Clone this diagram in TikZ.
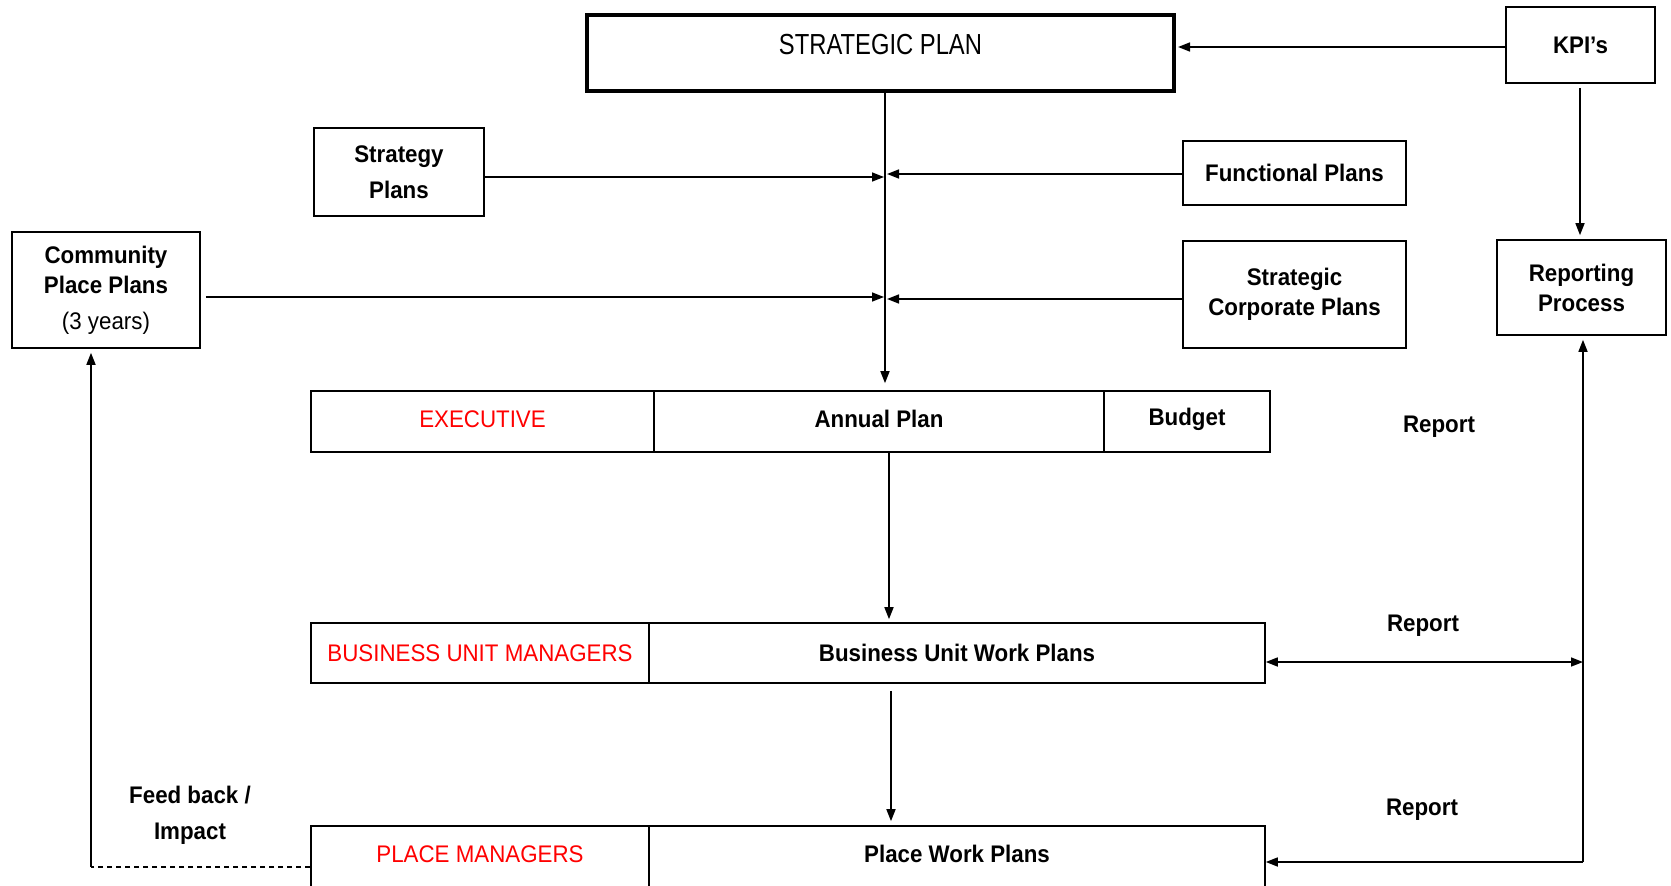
\documentclass[tikz,border=0pt]{standalone}
\usepackage{fontspec}
\setmainfont{Liberation Sans}[FakeStretch=0.93]
\newfontfamily\titlefont{Liberation Sans}[FakeStretch=0.82]
\usetikzlibrary{arrows.meta,calc}
\definecolor{mgrred}{RGB}{255,0,0}

\tikzset{
  box/.style={draw, line width=1.6pt, align=center, inner sep=0pt},
  cell/.style={draw, line width=1.6pt, inner sep=0pt},
  plain/.style={font=\fontsize{24}{30}\selectfont\mdseries},
  redtext/.style={plain, text=mgrred},
  link/.style={line width=1.6pt, -{Triangle[length=12pt,width=9pt]}},
  twoway/.style={line width=1.6pt, {Triangle[length=12pt,width=9pt]}-{Triangle[length=12pt,width=9pt]}},
  feedback/.style={line width=1.6pt, dash pattern=on 5pt off 4pt},
}

\begin{document}
\begin{tikzpicture}[x=1pt, y=-1pt, font=\fontsize{24}{30}\selectfont\bfseries]
\fill[white] (0,0) rectangle (1671,886);
\useasboundingbox (0,0) rectangle (1671,886);

% top level plan and indicators
\node[box, line width=4pt, minimum width=587pt, minimum height=76pt] (sp) at (880.5,53) {};
\node[font=\titlefont\fontsize{29}{34}\selectfont] (sptext) at (880.5,45) {STRATEGIC PLAN};
\node[box, minimum width=149pt, minimum height=76pt] (kpi) at (1580.5,45) {KPI's};

% input plans
\node[box, minimum width=170pt, minimum height=88pt] (strat) at (399,172) {Strategy\\[6pt]Plans};
\node[box, minimum width=223pt, minimum height=64pt] (func) at (1294.5,173) {Functional Plans};
\node[box, minimum width=188pt, minimum height=116pt] (comm) at (106,290)
  {Community\\Place Plans\\[6pt]{\mdseries (3 years)}};
\node[box, minimum width=223pt, minimum height=107pt] (corp) at (1294.5,294.5) {Strategic\\Corporate Plans};
\node[box, minimum width=169pt, minimum height=95pt] (rep) at (1581.5,287.5) {Reporting\\Process};

% executive row
\node[cell, minimum width=343pt, minimum height=61pt] (exec) at (482.5,421.5) {};
\node[cell, minimum width=450pt, minimum height=61pt] (annual) at (879,421.5) {};
\node[cell, minimum width=166pt, minimum height=61pt] (budget) at (1187,421.5) {};
\node[redtext] (exectext) at (482.5,419) {EXECUTIVE};
\node (annualtext) at (879,419) {Annual Plan};
\node (budgettext) at (1187,419) {Budget};

% business unit row
\node[cell, minimum width=338pt, minimum height=60pt, redtext] (bumgr) at (480,653) {BUSINESS UNIT MANAGERS};
\node[cell, minimum width=616pt, minimum height=60pt] (buwork) at (957,653) {Business Unit Work Plans};

% place row (runs past the lower edge)
\node[cell, minimum width=338pt, minimum height=70pt] (placemgr) at (480,861) {};
\node[cell, minimum width=616pt, minimum height=70pt] (placework) at (957,861) {};
\node[redtext] (placemgrtext) at (480,854) {PLACE MANAGERS};
\node (placeworktext) at (957,854) {Place Work Plans};

% labels
\node (rep1) at (1439,427) {Report};
\node (rep2) at (1423,626) {Report};
\node (rep3) at (1422,810) {Report};
\node[align=center] (fbtext) at (190,815) {Feed back /\\[6pt]Impact};

% junction points on the central spine
\coordinate (spine) at (885,0);
\coordinate (hubA) at (884,177);
\coordinate (hubB) at (887,174);
\coordinate (hubC) at (884,297);
\coordinate (hubD) at (887,299);
\coordinate (down1) at (889,0);
\coordinate (down2) at (891,0);
\coordinate (kpirow) at (0,47);
\coordinate (kpicol) at (1580,0);
\coordinate (retBU) at (1583,662);
\coordinate (retPL) at (1583,862);
\coordinate (fbcorner) at (91,867);

% central flow
\draw[link, shorten >=7pt] (sp.south -| spine) -- (annual.north -| spine);
\draw[link] (strat.east |- hubA) -- (hubA);
\draw[link] (func.west |- hubB) -- (hubB);
\draw[link] (comm.east |- hubC) ++(5,0) -- (hubC);
\draw[link] (corp.west |- hubD) -- (hubD);
\draw[link, shorten >=3pt] (annual.south -| down1) -- (bumgr.north -| down1);
\draw[link, shorten <=7pt, shorten >=4pt] (buwork.south -| down2) -- (placework.north -| down2);

% indicators and reporting loop
\draw[link, shorten >=2pt] (kpi.west |- kpirow) -- (sp.east |- kpirow);
\draw[link, shorten <=4pt, shorten >=4pt] (kpi.south -| kpicol) -- (rep.north -| kpicol);
\draw[link, shorten >=4pt] (retPL) -- (rep.south -| retPL);
\draw[twoway] (buwork.east |- retBU) -- (retBU);
\draw[link] (retPL) -- (placework.east |- retPL);

% feedback to community plans
\draw[feedback] (placemgr.west |- fbcorner) -- (fbcorner);
\draw[link, shorten >=4pt] (fbcorner) -- (comm.south -| fbcorner);
\end{tikzpicture}
\end{document}
